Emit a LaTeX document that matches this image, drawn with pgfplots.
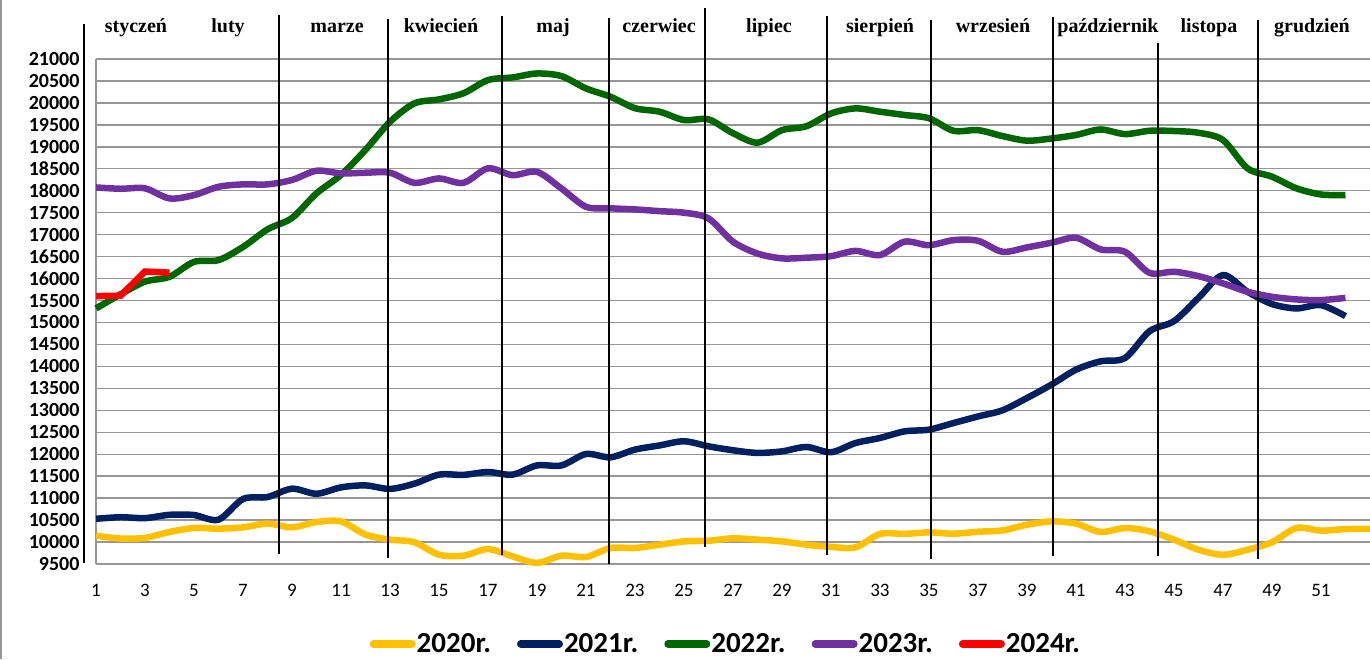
\documentclass[border=0pt]{standalone}
\usepackage{pgfplots}
\pgfplotsset{compat=1.18}
\usepackage{fontspec}
\setmainfont{Carlito}
\newfontfamily\monthfont{Liberation Serif}
\definecolor{c2020}{RGB}{255,192,0}
\definecolor{c2021}{RGB}{0,32,96}
\definecolor{c2022}{RGB}{0,102,0}
\definecolor{c2023}{RGB}{112,48,160}
\definecolor{c2024}{RGB}{255,0,0}
\definecolor{gridc}{RGB}{150,150,150}
\begin{document}
\begin{tikzpicture}
\begin{axis}[
  at={(0pt,0pt)}, anchor=south west,
  scale only axis, width=1274pt, height=505pt,
  xmin=1, xmax=53, ymin=9500, ymax=21000,
  clip=false,
  xtick={1,3,...,51}, ytick={9500,10000,...,21000},
  ymajorgrids, grid style={draw=gridc, line width=1.4pt},
  axis y line*=left, axis x line*=bottom,
  axis line style={draw=gridc, line width=1.4pt, -},
  tick style={draw=none}, major tick length=0pt,
  scaled y ticks=false,
  /pgf/number format/assume math mode=true,
  /pgf/number format/1000 sep={},
  yticklabel style={font=\fontsize{20}{20}\selectfont\bfseries, anchor=east, xshift=-13pt},
  xticklabel style={font=\fontsize{19}{19}\selectfont, anchor=north, yshift=-17pt},
  legend columns=5,
  legend style={at={(0.4941,-0.158)}, anchor=center, draw=none, fill=none,
    font=\fontsize{29}{29}\selectfont\bfseries,
    nodes={inner sep=1pt},
    /tikz/every even column/.append style={column sep=25pt}},
  legend image code/.code={\draw[#1, line width=7.5pt, line cap=round] (3.75pt,0pt) -- (42.25pt,0pt);},
]
\addplot[c2020, line width=6.5pt, smooth] table {
1 10145
2 10080
3 10095
4 10230
5 10320
6 10305
7 10335
8 10420
9 10335
10 10455
11 10470
12 10170
13 10055
14 9995
15 9710
16 9690
17 9840
18 9675
19 9525
20 9690
21 9660
22 9865
23 9865
24 9940
25 10015
26 10030
27 10085
28 10055
29 10015
30 9940
31 9890
32 9880
33 10185
34 10185
35 10220
36 10190
37 10235
38 10265
39 10395
40 10470
41 10420
42 10230
43 10320
44 10245
45 10055
46 9825
47 9710
48 9825
49 9995
50 10320
51 10260
52 10295
53 10300
};
\addlegendentry{2020r.}
\addplot[c2021, line width=6.5pt, smooth] table {
1 10530
2 10565
3 10545
4 10620
5 10615
6 10510
7 10980
8 11025
9 11215
10 11100
11 11245
12 11290
13 11210
14 11330
15 11535
16 11530
17 11595
18 11535
19 11745
20 11745
21 12005
22 11930
23 12105
24 12200
25 12295
26 12180
27 12090
28 12030
29 12065
30 12165
31 12045
32 12255
33 12370
34 12520
35 12560
36 12710
37 12860
38 13000
39 13280
40 13585
41 13925
42 14115
43 14190
44 14800
45 15030
46 15560
47 16080
48 15700
49 15420
50 15320
51 15395
52 15145
};
\addlegendentry{2021r.}
\addplot[c2022, line width=6.5pt, smooth] table {
1 15320
2 15640
3 15930
4 16040
5 16380
6 16420
7 16720
8 17120
9 17380
10 17940
11 18360
12 18930
13 19570
14 19990
15 20080
16 20220
17 20520
18 20580
19 20670
20 20610
21 20330
22 20140
23 19880
24 19800
25 19610
26 19625
27 19310
28 19095
29 19380
30 19470
31 19760
32 19875
33 19800
34 19725
35 19650
36 19365
37 19380
38 19245
39 19140
40 19190
41 19270
42 19395
43 19290
44 19365
45 19360
46 19320
47 19155
48 18510
49 18320
50 18055
51 17915
52 17900
};
\addlegendentry{2022r.}
\addplot[c2023, line width=6.5pt, smooth] table {
1 18075
2 18045
3 18055
4 17825
5 17900
6 18090
7 18145
8 18145
9 18245
10 18455
11 18395
12 18410
13 18410
14 18180
15 18280
16 18180
17 18510
18 18355
19 18430
20 18050
21 17635
22 17600
23 17575
24 17535
25 17500
26 17370
27 16840
28 16570
29 16460
30 16475
31 16510
32 16630
33 16535
34 16840
35 16760
36 16875
37 16860
38 16610
39 16710
40 16815
41 16930
42 16665
43 16610
44 16130
45 16155
46 16055
47 15890
48 15700
49 15585
50 15525
51 15510
52 15560
};
\addlegendentry{2023r.}
\addplot[c2024, line width=6.5pt] table {
1 15600
2 15610
3 16160
4 16135
};
\addlegendentry{2024r.}
\end{axis}
% month separators
\foreach \x/\t/\b in {183/549/10, 292/545/6, 406/548/9, 513/546/0, 609/556/17, 731/548/9, 835/544/5, 957/547/8, 1062/521/8, 1162/544/5, -12/540/1}
  \draw[black, line width=1.2pt] (\x pt,\t pt) -- (\x pt,\b pt);
\foreach \x/\m in {40/styczeń, 132/luty, 241/marze, 345/kwiecień, 457/maj, 563/czerwiec, 673/lipiec, 784/sierpień, 897/wrzesień, 1113/listopa, 1216/grudzień}
  \node[anchor=base, font=\monthfont\fontsize{20}{20}\selectfont\bfseries] at (\x pt,531pt) {\m};
\node[anchor=base, fill=white, inner sep=1pt, font=\monthfont\fontsize{20}{20}\selectfont\bfseries] at (1012pt,531pt) {październik};
\draw[gridc, line width=1.5pt] (-95pt,-95pt) -- (-95pt,564pt);
\pgfresetboundingbox
\path (-96pt,-95pt) rectangle (1274pt,564pt);
\end{tikzpicture}
\end{document}
